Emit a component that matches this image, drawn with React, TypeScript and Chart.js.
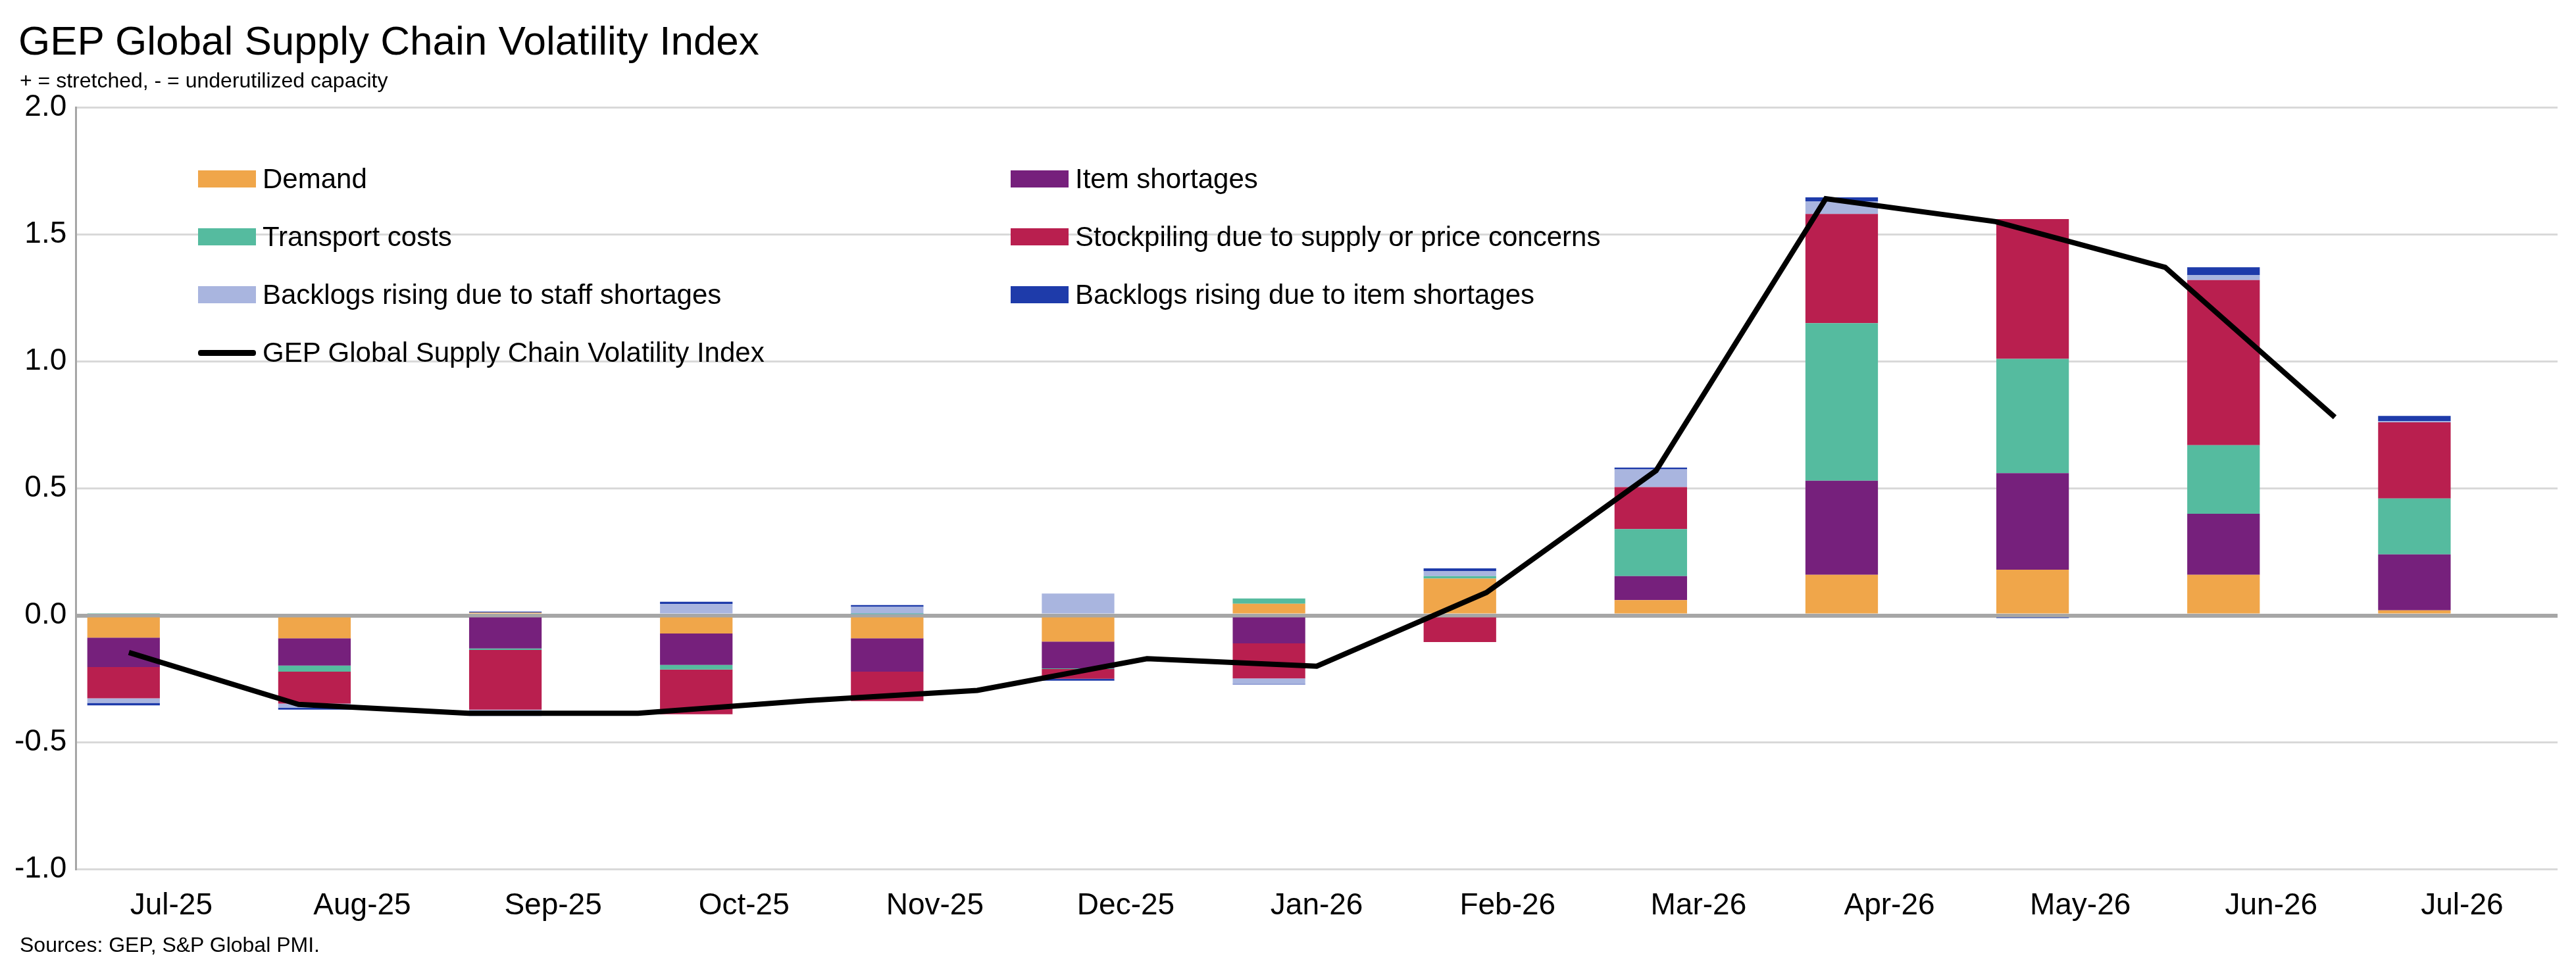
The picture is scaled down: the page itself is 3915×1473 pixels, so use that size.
import React, { useEffect, useRef } from "react";
import { Chart, registerables } from "chart.js";
Chart.register(...registerables);

const categories = ["Jul-25","Aug-25","Sep-25","Oct-25","Nov-25","Dec-25","Jan-26","Feb-26","Mar-26","Apr-26","May-26","Jun-26","Jul-26"];
const demand = [-0.087,-0.09,0.011,-0.071,-0.09,-0.103,0.046,0.145,0.06,0.16,0.18,0.16,0.02];
const itemShortages = [-0.116,-0.107,-0.13,-0.124,-0.131,-0.105,-0.11,0,0.095,0.37,0.38,0.24,0.22];
const transport = [0.009,-0.024,-0.006,-0.018,0.005,-0.003,0.021,0.01,0.185,0.62,0.45,0.27,0.22];
const stockpiling = [-0.123,-0.126,-0.235,-0.176,-0.116,-0.038,-0.138,-0.105,0.165,0.43,0.55,0.65,0.30];
const staffBacklogs = [-0.018,-0.016,-0.025,0.045,0.029,0.086,-0.021,0.02,0.07,0.05,0,0.02,0.005];
const itemBacklogs = [-0.01,-0.008,0.004,0.009,0.007,-0.008,-0.003,0.01,0.007,0.015,-0.01,0.03,0.02];
// index line; first value is the prior month (Jun-25), just left of the visible range
const indexX = [-1,0,1,2,3,4,5,6,7,8,9,10,11,12];
const indexValues = [-0.146,-0.35,-0.385,-0.385,-0.335,-0.295,-0.17,-0.2,0.09,0.57,1.64,1.55,1.37,0.78];

const names = ["Demand","Item shortages","Transport costs","Stockpiling due to supply or price concerns","Backlogs rising due to staff shortages","Backlogs rising due to item shortages"];
const colors = ["#F0A64A","#76207C","#55BB9F","#B91F4F","#A9B5DF","#1E3BAA"];
const series = [demand,itemShortages,transport,stockpiling,staffBacklogs,itemBacklogs];
const lineName = "GEP Global Supply Chain Volatility Index";
const FONT = "'Liberation Sans Narrow', 'Liberation Sans', Arial, sans-serif";

export default function App() {
  const ref = useRef<HTMLCanvasElement>(null);
  useEffect(() => {
    const chart = new Chart(ref.current!, {
      type: "bar",
      data: {
        labels: categories,
        datasets: [
          ...series.map((d, i) => ({
            type: "bar" as const, label: names[i], data: d, backgroundColor: colors[i],
            barPercentage: 0.76, categoryPercentage: 1, stack: "s", order: 2,
          })),
          {
            type: "line" as const, label: lineName, xAxisID: "x2",
            data: indexX.map((x, i) => ({ x, y: indexValues[i] })) as any,
            borderColor: "#000", borderWidth: 8, pointRadius: 0, tension: 0, order: 1,
          },
        ],
      },
      options: {
        animation: false, responsive: true, maintainAspectRatio: false,
        layout: { padding: { top: 155, right: 20, left: 0, bottom: 40 } },
        plugins: { legend: { display: false }, tooltip: { enabled: false } },
        scales: {
          x: {
            stacked: true, offset: true,
            grid: { display: false }, border: { display: false },
            ticks: { color: "#000", font: { family: FONT, size: 46 }, padding: 20 },
          },
          x2: { type: "linear", display: false, min: -0.5, max: 12.5 },
          y: {
            stacked: true, min: -1, max: 2,
            ticks: { stepSize: 0.5, color: "#000", font: { family: FONT, size: 46 }, callback: (v: any) => Number(v).toFixed(1), padding: 14 },
            grid: {
              color: (c: any) => (c.tick && c.tick.value === 0 ? "#A6A6A6" : "#D9D9D9"),
              lineWidth: (c: any) => (c.tick && c.tick.value === 0 ? 6 : 3),
              drawTicks: false,
            },
            border: { display: true, color: "#A6A6A6", width: 3 },
          },
        },
      },
    });
    return () => chart.destroy();
  }, []);

  const rows = [
    [0, 1], [2, 3], [4, 5], [6, -1],
  ];
  return (
    <div style={{ position: "relative", width: 3899, height: 1457, fontFamily: FONT }}>
      <div style={{ position: "absolute", left: 20, top: 18, fontSize: 62, color: "#000" }}>GEP Global Supply Chain Volatility Index</div>
      <div style={{ position: "absolute", left: 22, top: 96, fontSize: 32, color: "#000" }}>+ = stretched, - = underutilized capacity</div>
      <canvas ref={ref} />
      {rows.map((r, ri) =>
        r.map((idx, ci) => {
          if (idx < 0) return null;
          const left = ci === 0 ? 293 : 1528;
          const top = 240 + ri * 88;
          const isLine = idx === 6;
          return (
            <div key={`${ri}-${ci}`} style={{ position: "absolute", left, top, display: "flex", alignItems: "center", fontSize: 42, color: "#000" }}>
              <div style={{ width: 88, height: isLine ? 9 : 26, background: isLine ? "#000" : colors[idx], marginRight: 10, borderRadius: isLine ? 4 : 0 }} />
              <span>{isLine ? lineName : names[idx]}</span>
            </div>
          );
        })
      )}
      <div style={{ position: "absolute", left: 22, top: 1410, fontSize: 32, color: "#000" }}>Sources: GEP, S&P Global PMI.</div>
    </div>
  );
}
